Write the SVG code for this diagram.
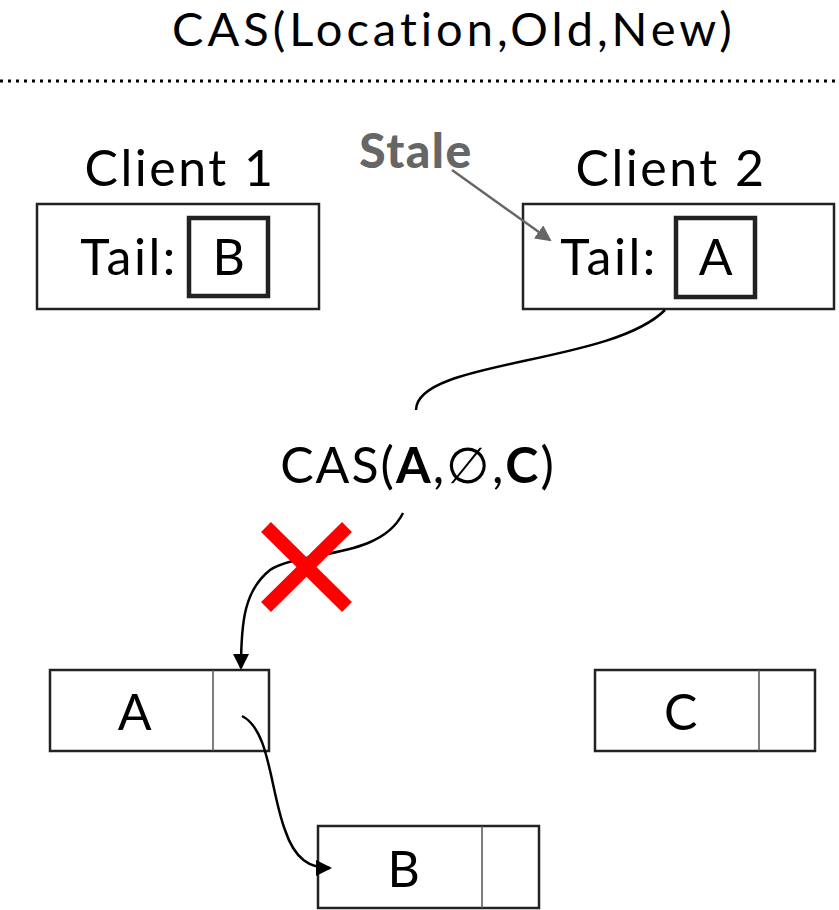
<svg xmlns="http://www.w3.org/2000/svg" width="839" height="910" viewBox="0 0 839 910">
<defs>
<style>
.t{font-family:Lato,"Noto Sans","Liberation Sans",sans-serif;font-size:50px;fill:#000;text-anchor:middle;letter-spacing:2.5px}
.box{fill:#fff;stroke:#222;stroke-width:2.5}
.inner{fill:#fff;stroke:#222;stroke-width:4.5}
.div{stroke:#555;stroke-width:1.5}
.conn{fill:none;stroke:#000;stroke-width:2.5}
</style>
<marker id="ah" markerWidth="16" markerHeight="16" refX="14" refY="8" orient="auto" markerUnits="userSpaceOnUse" viewBox="0 0 16 16"><path d="M0,0 L16,8 L0,16 z" fill="#000"/></marker>
<marker id="ahg" markerWidth="16" markerHeight="16" refX="14" refY="8" orient="auto" markerUnits="userSpaceOnUse" viewBox="0 0 16 16"><path d="M0,0 L16,8 L0,16 z" fill="#666"/></marker>
</defs>
<rect width="839" height="910" fill="#fff"/>
<g id="title">
<text class="t" x="454" y="46" style="font-size:47px;letter-spacing:4px">CAS(Location,Old,New)</text>
<line x1="0" y1="81" x2="839" y2="81" stroke="#000" stroke-width="3" stroke-dasharray="3,5"/>
</g>
<g id="client1">
<text class="t" x="180" y="186">Client 1</text>
<rect class="box" x="37" y="204" width="282" height="105"/>
<text class="t" x="129" y="275">Tail:</text>
<rect class="inner" x="189" y="218" width="79" height="78"/>
<text class="t" x="230" y="275">B</text>
</g>
<g id="client2">
<text class="t" x="671" y="186">Client 2</text>
<rect class="box" x="523" y="204" width="311" height="105"/>
<text class="t" x="609" y="275">Tail:</text>
<rect class="inner" x="676" y="218" width="79" height="79"/>
<text class="t" x="717" y="275">A</text>
</g>
<g id="stale">
<text x="416" y="168" style="font-family:Lato,'Noto Sans',sans-serif;font-weight:900;font-size:48px;fill:#666;text-anchor:middle;letter-spacing:1.5px">Stale</text>
</g>
<g id="cas">
<text class="t" x="418" y="483" style="letter-spacing:2px">CAS(<tspan font-weight="bold">A</tspan>,∅,<tspan font-weight="bold">C</tspan>)</text>
</g>
<g id="nodeA">
<rect class="box" x="50" y="670" width="219" height="81"/>
<line class="div" x1="213" y1="670" x2="213" y2="751"/>
<text class="t" x="136" y="730">A</text>
</g>
<g id="nodeB">
<rect class="box" x="318" y="826" width="221" height="82"/>
<line class="div" x1="482" y1="826" x2="482" y2="908"/>
<text class="t" x="405" y="887">B</text>
</g>
<g id="nodeC">
<rect class="box" x="595" y="670" width="220" height="81"/>
<line class="div" x1="759" y1="670" x2="759" y2="751"/>
<text class="t" x="682" y="730">C</text>
</g>
<g id="connectors">
<path d="M452,170 L550,240" fill="none" stroke="#666" stroke-width="2.5" marker-end="url(#ahg)"/>
<path class="conn" d="M665,310 C610,365 416,360 416,410"/>
<path class="conn" d="M403,513 C380,560 300,550 270,570 C245,590 241,620 241,668" marker-end="url(#ah)"/>
<path class="conn" d="M242,716 C270,730 270,790 285,830 C295,860 310,868 330,868" marker-end="url(#ah)"/>
</g>
<g id="cross">
<line x1="266" y1="527" x2="347" y2="607" stroke="#f00" stroke-width="14"/>
<line x1="347" y1="527" x2="266" y2="607" stroke="#f00" stroke-width="14"/>
</g>
</svg>
